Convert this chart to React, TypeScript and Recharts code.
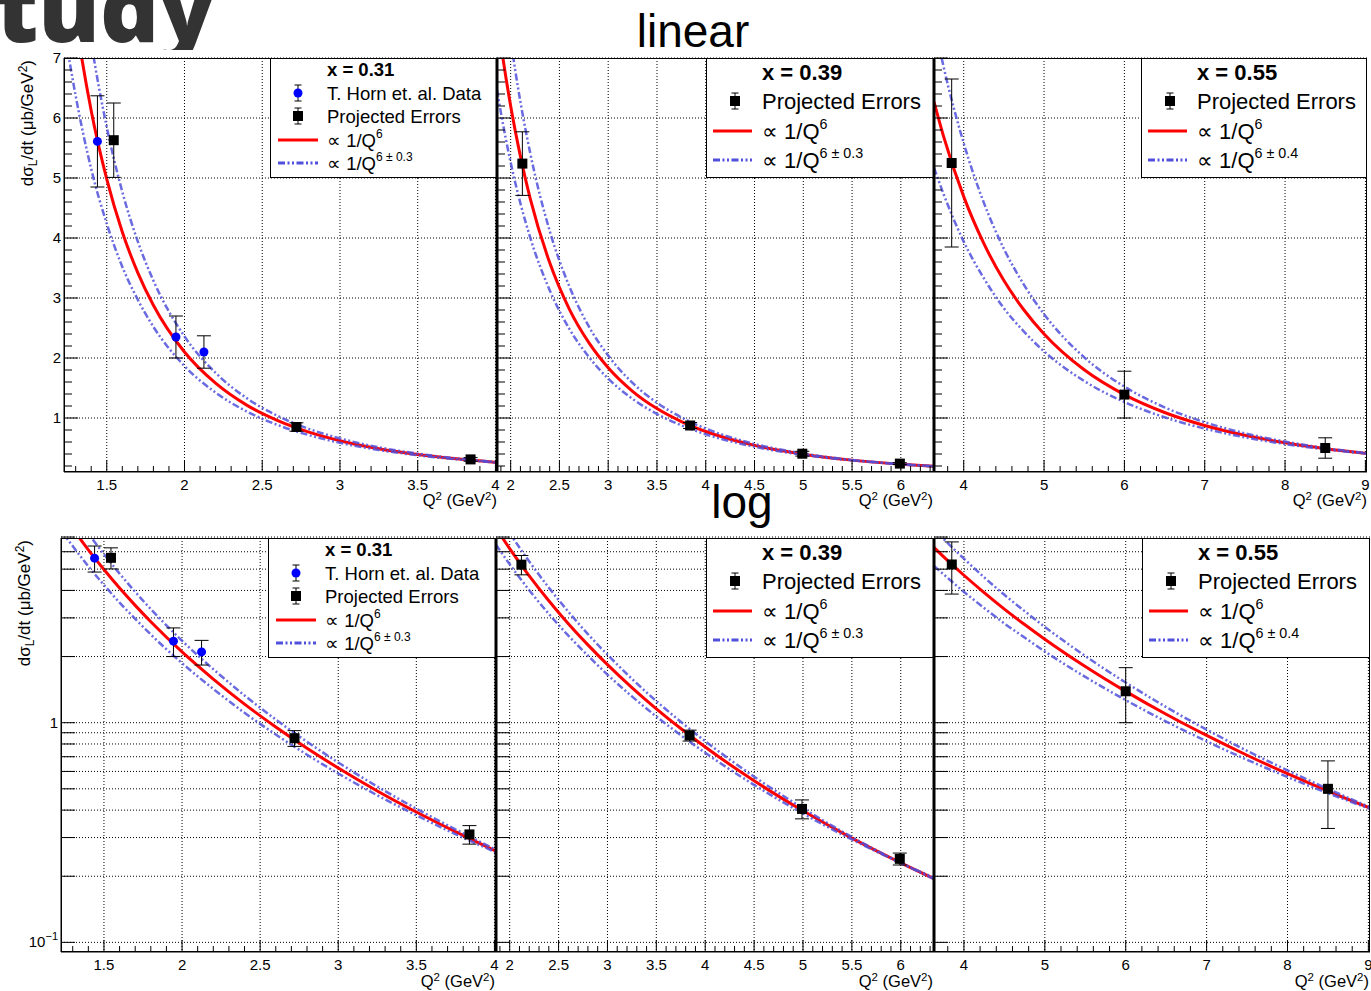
import React from "react";
import { ComposedChart, Line, Scatter, XAxis, YAxis, CartesianGrid, ErrorBar } from "recharts";

const FONT = "'Liberation Sans', Arial, Helvetica, sans-serif";
const RED = "#ff0000";
const BLUE = "#5050dc";
const DASH = "7 2.5 2 2.5 2 2.5";

// ---- x = 0.31 ----
const q2_031 = [1.225, 1.3, 1.4, 1.5, 1.6, 1.7, 1.8, 2.0, 2.2, 2.4, 2.6, 2.8, 3.0, 3.25, 3.5, 3.75, 4.01];
const fit_031 = [9.1, 7.65, 6.12, 4.98, 4.1, 3.42, 2.88, 2.1, 1.58, 1.215, 0.956, 0.765, 0.622, 0.489, 0.392, 0.319, 0.26];
const up_031 = [11.0, 9.19, 7.27, 5.85, 4.77, 3.94, 3.29, 2.36, 1.753, 1.331, 1.034, 0.819, 0.659, 0.512, 0.406, 0.327, 0.264];
const low_031 = [7.5, 6.37, 5.15, 4.24, 3.52, 2.97, 2.52, 1.866, 1.424, 1.109, 0.883, 0.715, 0.587, 0.467, 0.379, 0.311, 0.257];
const hornQ2_031 = [1.44, 1.945, 2.125];
const hornY_031 = [5.61, 2.35, 2.1];
const hornErr_031 = [0.76, 0.35, 0.27];
const projQ2_031 = [1.545, 2.72, 3.84];
const projY_031 = [5.63, 0.85, 0.31];
const projErr_031 = [0.62, 0.07, 0.03];

// ---- x = 0.39 ----
const q2_039 = [1.86, 1.9, 2.0, 2.1, 2.2, 2.4, 2.6, 2.8, 3.0, 3.25, 3.5, 3.75, 4.0, 4.5, 5.0, 5.5, 6.0, 6.34];
const fit_039 = [7.71, 7.23, 6.2, 5.36, 4.66, 3.59, 2.82, 2.26, 1.837, 1.445, 1.157, 0.941, 0.775, 0.544, 0.397, 0.298, 0.23, 0.195];
const up_039 = [9.19, 8.59, 7.31, 6.27, 5.42, 4.12, 3.2, 2.53, 2.04, 1.584, 1.254, 1.01, 0.824, 0.568, 0.408, 0.302, 0.23, 0.194];
const low_039 = [6.47, 6.09, 5.26, 4.58, 4.01, 3.13, 2.49, 2.02, 1.656, 1.318, 1.067, 0.877, 0.729, 0.521, 0.386, 0.294, 0.23, 0.197];
const projQ2_039 = [2.12, 3.84, 4.99, 5.99];
const projY_039 = [5.24, 0.875, 0.405, 0.24];
const projErr_039 = [0.53, 0.05, 0.04, 0.015];

// ---- x = 0.55 ----
const q2_055 = [3.63, 3.75, 4.0, 4.25, 4.5, 4.75, 5.0, 5.5, 6.0, 6.5, 7.0, 7.5, 8.0, 8.5, 9.02];
const fit_055 = [6.27, 5.69, 4.69, 3.91, 3.29, 2.8, 2.4, 1.803, 1.389, 1.092, 0.875, 0.711, 0.586, 0.4885, 0.409];
const up_055 = [7.6, 6.85, 5.58, 4.59, 3.82, 3.22, 2.73, 2.011, 1.523, 1.178, 0.93, 0.745, 0.607, 0.4995, 0.413];
const low_055 = [5.17, 4.73, 3.94, 3.33, 2.83, 2.44, 2.11, 1.616, 1.267, 1.012, 0.823, 0.678, 0.566, 0.4778, 0.405];
const projQ2_055 = [3.85, 6.0, 8.5];
const projY_055 = [5.25, 1.39, 0.5];
const projErr_055 = [1.4, 0.39, 0.17];

// ---- axes ----
const majorsX_031 = [1.5, 2, 2.5, 3, 3.5, 4];
const majorsX_039 = [2, 2.5, 3, 3.5, 4, 4.5, 5, 5.5, 6];
const majorsX_055 = [4, 5, 6, 7, 8, 9];
const linMajorsY = [1, 2, 3, 4, 5, 6, 7];
const logTicksY = [0.1, 0.2, 0.3, 0.4, 0.5, 0.6, 0.7, 0.8, 0.9, 1, 2, 3, 4, 5, 6, 7];
const logMajorsY = [0.1, 1];

function steps(from: number, to: number, step: number): number[] {
  const out: number[] = [];
  const n = Math.round((to - from) / step);
  for (let i = 0; i <= n; i++) out.push(+(from + i * step).toFixed(4));
  return out;
}

const curve = (q: number[], f: number[], u: number[], l: number[]) =>
  q.map((q2, i) => ({ q2, fit: f[i], up: u[i], low: l[i] }));
const points = (q: number[], y: number[], e: number[]) => q.map((q2, i) => ({ q2, y: y[i], err: e[i] }));

const YW = 60;
const MT = 14;
const MR = 12;
const XH = 50;

const isIn = (arr: number[], v: number) => arr.some((m) => Math.abs(m - v) < 1e-6);

function makeXTick(majors: number[]) {
  return (p: any) => {
    const v = p.payload.value;
    const major = isIn(majors, v);
    return (
      <g>
        <line x1={p.x} x2={p.x} y1={p.y} y2={p.y - (major ? 12 : 6)} stroke="#000" strokeWidth={1} />
        {major && (
          <text x={p.x} y={p.y + 18} textAnchor="middle" fontSize={15} fontFamily={FONT} fill="#000">
            {String(+v.toFixed(2))}
          </text>
        )}
      </g>
    );
  };
}

function makeYTick(majors: number[], log: boolean, labels: boolean) {
  return (p: any) => {
    const v = p.payload.value;
    const major = isIn(majors, v);
    const len = log ? 14 : major ? 14 : 8;
    let label: React.ReactNode = null;
    if (labels && major) {
      label = log && Math.abs(v - 0.1) < 1e-6 ? (
        <>
          10<tspan dy={-7} fontSize={11}>−1</tspan>
        </>
      ) : (
        String(v)
      );
    }
    return (
      <g>
        <line x1={p.x} x2={p.x + len} y1={p.y} y2={p.y} stroke="#000" strokeWidth={1} />
        {label !== null && (
          <text x={p.x - 3} y={p.y + 5} textAnchor="end" fontSize={15} fontFamily={FONT} fill="#000">
            {label}
          </text>
        )}
      </g>
    );
  };
}

const squareShape = (p: any) => <rect x={p.cx - 5} y={p.cy - 5} width={10} height={10} fill="#000" />;
const dotShape = (p: any) => <circle cx={p.cx} cy={p.cy} r={4.5} fill="#0000ff" />;

type Pt = { q2: number; y: number; err: number };

function Panel(props: {
  left: number;
  top: number;
  width: number;
  height: number;
  xDomain: [number, number];
  xMajors: number[];
  xStep: number;
  log: boolean;
  thick: boolean;
  labels: boolean;
  data: { q2: number; fit: number; up: number; low: number }[];
  horn?: Pt[];
  proj: Pt[];
}) {
  const { left, top, width, height, xDomain, xMajors, xStep, log, thick, labels, data, horn, proj } = props;
  const first = Math.ceil(xDomain[0] / xStep - 1e-6) * xStep;
  const last = Math.floor(xDomain[1] / xStep + 1e-6) * xStep;
  const xTicks = steps(first, last, xStep);
  const yTicks = log ? logTicksY : steps(0.2, 7, 0.2);
  const yMajors = log ? logMajorsY : linMajorsY;
  const gridY = log ? logTicksY : linMajorsY;
  return (
    <>
      <div style={{ position: "absolute", left: left - YW, top: top - MT }}>
        <ComposedChart
          width={YW + width + MR}
          height={MT + height + XH}
          data={data}
          margin={{ top: MT, right: MR, bottom: 0, left: 0 }}
        >
          <CartesianGrid stroke="#000" strokeDasharray="1 2" horizontalValues={gridY} verticalValues={xMajors} />
          <XAxis
            dataKey="q2"
            type="number"
            domain={xDomain}
            allowDataOverflow
            ticks={xTicks}
            interval={0}
            height={XH}
            tickSize={0}
            tickMargin={0}
            tickLine={false}
            axisLine={{ stroke: "#000", strokeWidth: 1 }}
            tick={makeXTick(xMajors)}
          />
          <YAxis
            type="number"
            scale={log ? "log" : "linear"}
            domain={log ? [0.0904, 6.93] : [0.1, 7]}
            allowDataOverflow
            ticks={yTicks}
            interval={0}
            width={YW}
            tickSize={0}
            tickMargin={0}
            tickLine={false}
            axisLine={{ stroke: "#000", strokeWidth: thick ? 3 : 1 }}
            tick={makeYTick(yMajors, log, labels)}
          />
          <Line dataKey="fit" type="monotone" stroke={RED} strokeWidth={3} dot={false} isAnimationActive={false} />
          <Line
            dataKey="up"
            type="monotone"
            stroke={BLUE}
            strokeOpacity={0.85}
            strokeWidth={2.5}
            strokeDasharray={DASH}
            dot={false}
            isAnimationActive={false}
          />
          <Line
            dataKey="low"
            type="monotone"
            stroke={BLUE}
            strokeOpacity={0.85}
            strokeWidth={2.5}
            strokeDasharray={DASH}
            dot={false}
            isAnimationActive={false}
          />
          {horn && (
            <Scatter data={horn} dataKey="y" shape={dotShape} isAnimationActive={false}>
              <ErrorBar dataKey="err" direction="y" width={7} stroke="#000" strokeWidth={1} isAnimationActive={false} />
            </Scatter>
          )}
          <Scatter data={proj} dataKey="y" shape={squareShape} isAnimationActive={false}>
            <ErrorBar dataKey="err" direction="y" width={7} stroke="#000" strokeWidth={1} isAnimationActive={false} />
          </Scatter>
        </ComposedChart>
      </div>
      <div
        style={{
          position: "absolute",
          left,
          top,
          width,
          height,
          border: "1px solid #000",
          boxSizing: "border-box",
          pointerEvents: "none",
        }}
      />
    </>
  );
}

type Entry = { kind: "circle" | "square" | "red" | "blue"; text: React.ReactNode };

function LegendBox(props: {
  left: number;
  top: number;
  width: number;
  title: string;
  small: boolean;
  entries: Entry[];
}) {
  const { left, top, width, title, small, entries } = props;
  const fs = small ? 18.5 : 22;
  const titleY = small ? 11 : 14;
  const rows = small ? [35, 58, 82, 105] : [43, 73, 102];
  const mx = small ? 28 : 29;
  const lx0 = small ? 8 : 7;
  const lx1 = small ? 48 : 46;
  const tx = small ? 57 : 56;
  return (
    <svg width={width} height={120} style={{ position: "absolute", left, top }}>
      <rect x={0.5} y={0.5} width={width - 1} height={119} fill="#fff" stroke="#000" strokeWidth={1} />
      <text x={tx} y={titleY + fs * 0.36} fontSize={fs} fontWeight={700} fontFamily={FONT} fill="#000">
        {title}
      </text>
      {entries.map((e, i) => {
        const y = rows[i];
        return (
          <g key={i}>
            {(e.kind === "circle" || e.kind === "square") && (
              <g stroke="#000" strokeWidth={1}>
                <line x1={mx} x2={mx} y1={y - 8} y2={y + 8} />
                <line x1={mx - 3.5} x2={mx + 3.5} y1={y - 8} y2={y - 8} />
                <line x1={mx - 3.5} x2={mx + 3.5} y1={y + 8} y2={y + 8} />
              </g>
            )}
            {e.kind === "circle" && <circle cx={mx} cy={y} r={4.5} fill="#0000ff" />}
            {e.kind === "square" && <rect x={mx - 5} y={y - 5} width={10} height={10} fill="#000" />}
            {e.kind === "red" && <line x1={lx0} x2={lx1} y1={y} y2={y} stroke={RED} strokeWidth={3} />}
            {e.kind === "blue" && (
              <line x1={lx0} x2={lx1} y1={y} y2={y} stroke={BLUE} strokeWidth={3} strokeDasharray={DASH} />
            )}
            <text x={tx} y={y + fs * 0.36} fontSize={fs} fontFamily={FONT} fill="#000">
              {e.text}
            </text>
          </g>
        );
      })}
    </svg>
  );
}

const powText = (exp: string, fs: number) => (
  <>
    ∝ 1/Q
    <tspan dy={-fs * 0.45} fontSize={fs * 0.65}>
      {exp}
    </tspan>
  </>
);

function legendEntries(horn: boolean, band: string, small: boolean): Entry[] {
  const fs = small ? 18.5 : 22;
  const list: Entry[] = [];
  if (horn) list.push({ kind: "circle", text: "T. Horn et. al. Data" });
  list.push({ kind: "square", text: "Projected Errors" });
  list.push({ kind: "red", text: powText("6", fs) });
  list.push({ kind: "blue", text: powText("6 ± " + band, fs) });
  return list;
}

function YTitle({ x, y }: { x: number; y: number }) {
  return (
    <text transform={`translate(${x},${y}) rotate(-90)`} textAnchor="end" fontSize={17} fontFamily={FONT} fill="#000">
      dσ<tspan dy={4} fontSize={12}>L</tspan>
      <tspan dy={-4}>/dt (μb/GeV</tspan>
      <tspan dy={-6} fontSize={12}>2</tspan>
      <tspan dy={6}>)</tspan>
    </text>
  );
}

function XTitle({ x, y }: { x: number; y: number }) {
  return (
    <text x={x} y={y} textAnchor="end" fontSize={16.5} fontFamily={FONT} fill="#000">
      Q<tspan dy={-6} fontSize={11.5}>2</tspan>
      <tspan dy={6}> (GeV</tspan>
      <tspan dy={-6} fontSize={11.5}>2</tspan>
      <tspan dy={6}>)</tspan>
    </text>
  );
}

export default function App() {
  const c031 = curve(q2_031, fit_031, up_031, low_031);
  const c039 = curve(q2_039, fit_039, up_039, low_039);
  const c055 = curve(q2_055, fit_055, up_055, low_055);
  const h031 = points(hornQ2_031, hornY_031, hornErr_031);
  const p031 = points(projQ2_031, projY_031, projErr_031);
  const p039 = points(projQ2_039, projY_039, projErr_039);
  const p055 = points(projQ2_055, projY_055, projErr_055);

  return (
    <div style={{ position: "absolute", left: 0, top: 0, width: 1371, height: 991, background: "#fff", overflow: "hidden" }}>
      <svg width={230} height={50} style={{ position: "absolute", left: 0, top: 0 }}>
        <text x={-4} y={42} fontSize={92} fontWeight={800} fontFamily="'Open Sans', sans-serif" fill="#333">
          tudy
        </text>
      </svg>

      {/* linear row */}
      <Panel left={64} top={58} width={433} height={414} xDomain={[1.225, 4.01]} xMajors={majorsX_031} xStep={0.1}
        log={false} thick={false} labels data={c031} horn={h031} proj={p031} />
      <LegendBox left={270} top={58} width={227} title="x = 0.31" small entries={legendEntries(true, "0.3", true)} />
      <Panel left={497} top={58} width={437} height={414} xDomain={[1.86, 6.34]} xMajors={majorsX_039} xStep={0.1}
        log={false} thick labels={false} data={c039} proj={p039} />
      <LegendBox left={706} top={58} width={228} title="x = 0.39" small={false} entries={legendEntries(false, "0.3", false)} />
      <Panel left={934} top={58} width={433} height={414} xDomain={[3.63, 9.02]} xMajors={majorsX_055} xStep={0.2}
        log={false} thick labels={false} data={c055} proj={p055} />
      <LegendBox left={1141} top={58} width={226} title="x = 0.55" small={false} entries={legendEntries(false, "0.4", false)} />

      {/* log row */}
      <Panel left={61} top={538} width={435} height={414} xDomain={[1.225, 4.01]} xMajors={majorsX_031} xStep={0.1}
        log thick={false} labels data={c031} horn={h031} proj={p031} />
      <LegendBox left={268} top={538} width={228} title="x = 0.31" small entries={legendEntries(true, "0.3", true)} />
      <Panel left={496} top={538} width={438} height={414} xDomain={[1.86, 6.34]} xMajors={majorsX_039} xStep={0.1}
        log thick labels={false} data={c039} proj={p039} />
      <LegendBox left={706} top={538} width={228} title="x = 0.39" small={false} entries={legendEntries(false, "0.3", false)} />
      <Panel left={934} top={538} width={436} height={414} xDomain={[3.63, 9.02]} xMajors={majorsX_055} xStep={0.2}
        log thick labels={false} data={c055} proj={p055} />
      <LegendBox left={1142} top={538} width={228} title="x = 0.55" small={false} entries={legendEntries(false, "0.4", false)} />

      <svg width={1371} height={991} style={{ position: "absolute", left: 0, top: 0, pointerEvents: "none" }}>
        <text x={693} y={47} textAnchor="middle" fontSize={46} fontFamily={FONT} fill="#000">linear</text>
        <text x={742} y={518} textAnchor="middle" fontSize={46} fontFamily={FONT} fill="#000">log</text>
        <YTitle x={33} y={60} />
        <YTitle x={30} y={540} />
        <XTitle x={497} y={506} />
        <XTitle x={933} y={506} />
        <XTitle x={1367} y={506} />
        <XTitle x={495} y={987} />
        <XTitle x={933} y={987} />
        <XTitle x={1369} y={987} />
      </svg>
    </div>
  );
}
